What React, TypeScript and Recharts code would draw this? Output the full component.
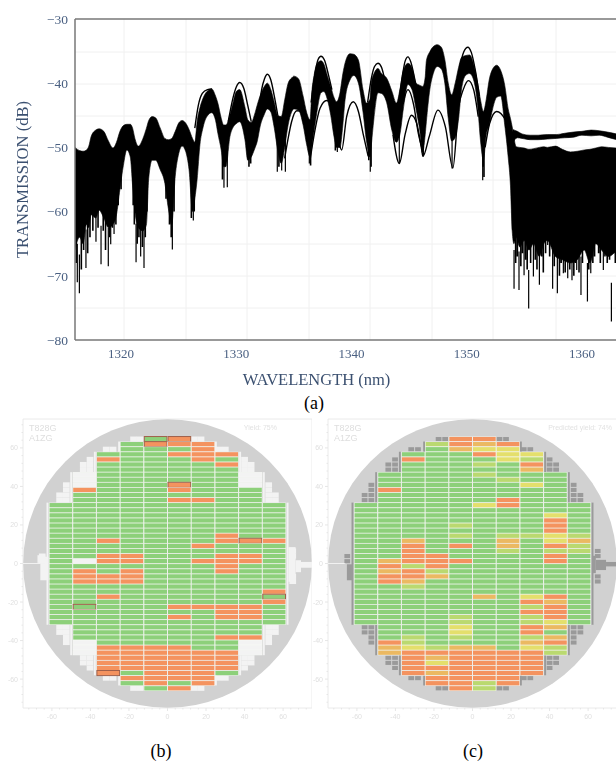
import React from 'react';
import { ComposedChart, ScatterChart, Area, Line, Scatter, XAxis, YAxis, CartesianGrid, ReferenceLine } from 'recharts';

// ---- (a) spectrum: [wavelength nm, upper dB, lower dB]
const bandRows: number[][] = [
  [1316.0,-50.0,-66],[1316.4,-50.5,-64],[1316.7,-50.6,-65],[1317.0,-50.4,-62],[1317.2,-49.8,-62.5],[1317.4,-48.3,-60.5],
  [1317.8,-47.3,-61],[1318.1,-47.1,-59.8],[1318.5,-47.5,-61],[1318.9,-49,-62.5],[1319.3,-50.1,-62],[1319.6,-49.2,-60.5],
  [1319.9,-47.5,-56.5],[1320.2,-46.6,-52.8],[1320.5,-46.4,-50.4],[1320.8,-46.4,-51.5],[1321.0,-47,-56],[1321.2,-48.6,-60],
  [1321.5,-49.8,-62.5],[1321.9,-48.6,-63],[1322.2,-47,-62],[1322.4,-45.8,-54.8],[1322.7,-45.2,-52],[1323.0,-45.4,-52],
  [1323.4,-47,-53.5],[1323.8,-48.6,-55.6],[1324.1,-48.8,-59.5],[1324.4,-48.6,-62],[1324.7,-47.5,-54.5],[1325.0,-46.2,-51],
  [1325.3,-45.8,-49.8],[1325.6,-46.2,-50.6],[1325.9,-47.2,-53.5],[1326.2,-48.6,-60],[1326.4,-49.2,-58],[1326.6,-46,-55],
  [1326.85,-43.8,-49.5],[1327.1,-42.4,-47],[1327.45,-41.3,-45.2],[1327.87,-40.9,-44.6],[1328.2,-42,-45.8],[1328.4,-43.1,-47.8],
  [1328.7,-45.5,-50.5],[1328.9,-46.5,-53],[1329.1,-46.5,-53],[1329.45,-44.9,-48.3],[1329.75,-42.8,-46.8],[1330.0,-41.3,-46.3],
  [1330.3,-41,-46],[1330.75,-43.7,-48.8],[1331.0,-45.7,-52],[1331.3,-46.1,-51.5],[1331.6,-44.8,-50.2],[1331.8,-43.5,-49.2],
  [1332.1,-41.8,-46.5],[1332.4,-40.6,-45],[1332.7,-40,-44],[1333.0,-41,-44.5],[1333.3,-43,-47],[1333.6,-45,-50.5],
  [1333.9,-45.2,-52.5],[1334.2,-42.6,-50],[1334.5,-40,-46.5],[1334.8,-39.2,-44.5],[1335.0,-38.9,-44],[1335.4,-39.3,-44.2],
  [1335.8,-42,-46.5],[1336.1,-44.5,-49.5],[1336.4,-45.7,-51.5],[1336.55,-41.5,-50],[1336.75,-38.8,-47.5],[1337.0,-37,-44.5],
  [1337.35,-36.5,-41.5],[1337.6,-37,-41.3],[1337.9,-38.8,-42.5],[1338.2,-40.5,-45],[1338.5,-42.3,-48.5],[1338.7,-42.9,-50],
  [1339.0,-41.5,-50],[1339.25,-38.5,-46.5],[1339.45,-36.8,-42.5],[1339.87,-35.4,-39.5],[1340.2,-35.5,-38.8],[1340.6,-36.4,-40],
  [1341.0,-41,-44.5],[1341.3,-43.1,-49],[1341.6,-42.5,-51.5],[1341.7,-40.2,-50],[1341.95,-38.5,-45.5],[1342.3,-37.7,-41.5],
  [1342.6,-38.5,-41.6],[1343.05,-39.2,-43],[1343.5,-41.2,-47.3],[1343.9,-43.1,-49.2],[1344.2,-41,-48],[1344.5,-38,-44],
  [1344.9,-36.9,-40.2],[1345.25,-37.6,-41],[1345.6,-40,-44],[1345.9,-40.3,-47],[1346.2,-40.5,-50.5],[1346.4,-39,-48],
  [1346.5,-36.5,-46],[1346.8,-35.1,-41],[1347.1,-34.3,-38.5],[1347.45,-34,-37.4],[1347.8,-34.4,-37.8],[1348.1,-36.3,-40],
  [1348.4,-40,-45.5],[1348.7,-41.8,-49],[1349.0,-40,-48.5],[1349.3,-37.5,-45.5],[1349.55,-36,-41],[1349.9,-35.7,-38.8],
  [1350.25,-35.6,-38.5],[1350.6,-37,-39.5],[1350.95,-40,-43.5],[1351.2,-42.6,-49],[1351.45,-44.4,-52],[1351.7,-42.5,-48],
  [1351.95,-39.5,-46.5],[1352.25,-37.8,-44],[1352.6,-37.2,-42.2],[1352.95,-38,-42],[1353.3,-40.3,-46.5],[1353.6,-44,-51.5],
  [1353.8,-45.5,-56],[1353.95,-46.8,-63],[1354.1,-48.5,-65],[1354.3,-49.9,-64],[1354.6,-50,-65.5],[1355,-50.1,-64.5],
  [1355.4,-50.3,-66],[1355.8,-50.2,-65],[1356.3,-50,-67],[1356.7,-49.9,-65],[1357.0,-50,-64.5],[1357.7,-49.8,-67],
  [1358.3,-50.3,-67.5],[1359,-50.7,-68],[1359.6,-50.6,-67.5],[1360.2,-50.4,-66],[1360.7,-50.3,-68],[1361.2,-50.1,-65],
  [1361.7,-49.9,-66],[1362.3,-50,-67],[1363,-50.1,-66],
];
const rightBandRows: number[][] = [
  [1354.0,-47.2,-49.3],[1354.4,-47.5,-48.5],[1354.8,-47.9,-48.6],[1355.5,-48.1,-48.8],[1356.2,-48.1,-48.8],[1357,-48,-48.7],[1357.8,-48,-48.6],
  [1358.5,-47.8,-48.5],[1359.3,-47.6,-48.4],[1360,-47.5,-48.1],[1360.8,-47.3,-48.2],[1361.5,-47.4,-48.1],[1362.2,-47.6,-48.4],[1363,-47.9,-48.8],
];
const spikeNm = [1316.2,1316.38,1316.95,1317.82,1318.26,1318.89,1319.1,1319.39,1321.3,1321.7,1321.99,1324.45,1326.27,1328.93,1329.22,1333.56,1333.94,1334.26,1336.34,1338.77,1341.63,1344.15,1346.24,1348.73,1351.39,1354.11,1354.54,1354.98,1355.38,1355.79,1356.31,1357.03,1357.46,1357.87,1358.39,1358.77,1359.14,1359.55,1359.92,1360.27,1360.48,1360.77,1361.28,1361.86,1362.56];
const spikeTip = [-71,-72.7,-68.8,-64.7,-68.2,-68.5,-65.1,-63.5,-67.9,-67,-68.8,-65.9,-61.4,-56.3,-56.2,-53.8,-53.6,-53.8,-52.5,-50.7,-53.8,-52.5,-51.4,-53.3,-55.1,-72,-72.2,-69.9,-75.1,-70.1,-71.4,-65.2,-72,-72.7,-69.6,-70.4,-70.7,-69.1,-73,-66,-74,-69.6,-64.9,-69.1,-77.1];
// shorter teeth along the lower edge of the bundle
const toothNm = [1316.1,1316.55,1316.75,1317.1,1317.3,1317.55,1318.0,1318.45,1318.65,1319.0,1319.25,1319.55,1319.75,1320.0,1321.05,1321.15,1321.4,1321.55,1321.85,1322.1,1322.25,1323.9,1324.2,1324.35,1324.6,1326.1,1326.35,1328.8,1331.1,1331.25,1333.7,1336.45,1338.6,1341.5,1341.7,1346.15,1351.42,1351.5,
  1354.25,1354.4,1354.7,1354.85,1355.1,1355.25,1355.55,1355.95,1356.1,1356.5,1356.65,1356.85,1357.2,1357.6,1358.05,1358.2,1358.55,1358.95,1359.3,1359.45,1359.75,1360.05,1360.6,1360.95,1361.1,1361.45,1361.6,1362.0,1362.2,1362.4,1362.75,1362.9];
const toothTip = [-68,-69,-66,-66.5,-64,-63,-62.5,-63,-66,-64,-62.5,-62,-59,-56.5,-59,-62,-65,-64,-65.5,-64,-60,-58,-62,-64,-60,-61,-60,-55,-53,-52.5,-53,-52.8,-50.5,-52,-53,-50.8,-53,-54.6,
  -68,-67,-68.5,-66.5,-67.5,-69,-68,-67.5,-69,-67,-69.5,-66.5,-67,-68.5,-70,-68,-69.5,-69,-70,-68,-69.5,-68,-69,-68,-67,-66.5,-68,-67,-68,-67.5,-66.5,-68];
// isolated traces that separate from the main bundle
const tracesA: number[][][] = [
  [[1326.4,-47],[1326.7,-43.5],[1327.05,-41.6],[1327.5,-41],[1327.9,-40.9]],
  [[1329.3,-46],[1329.7,-42.4],[1330,-40.6],[1330.3,-39.9],[1330.65,-40.8],[1331,-43.5],[1331.3,-46]],
  [[1331.9,-45],[1332.2,-41],[1332.45,-39.3],[1332.7,-38.6],[1333,-39.5],[1333.3,-42],[1333.6,-45]],
  [[1336.5,-43],[1336.9,-37.8],[1337.1,-36.3],[1337.35,-35.8],[1337.65,-36.4],[1338,-38.7],[1338.3,-41]],
  [[1341.4,-43],[1341.75,-39],[1342,-37.4],[1342.3,-36.9],[1342.6,-37.5],[1342.95,-40],[1343.3,-43]],
  [[1344.1,-43],[1344.45,-38.5],[1344.65,-36.6],[1344.9,-35.9],[1345.15,-36.7],[1345.45,-39],[1345.9,-43]],
  [[1349,-42],[1349.4,-37.5],[1349.75,-35.1],[1350.1,-34.4],[1350.4,-35.2],[1350.75,-38],[1351.1,-42]],
  [[1334.2,-51.7],[1334.5,-48.6],[1334.8,-46],[1335.25,-44.3],[1335.8,-44.5]],
  [[1336.4,-52],[1336.83,-47.3],[1337.27,-43.9],[1337.85,-42.7],[1338.28,-43.7],[1338.86,-48.8],[1339.15,-50.4],[1339.58,-45.2],[1340.15,-42.9],[1340.6,-44.4],[1341,-47.8],[1341.45,-51.4]],
  [[1343.6,-48],[1344.15,-52.5],[1344.65,-48],[1345.2,-45],[1345.65,-46.2],[1346.1,-50.4],[1346.2,-51.4],[1346.75,-48.3],[1347.5,-44.2],[1348.15,-46.8],[1348.8,-53.2],[1349.3,-43.7],[1349.7,-41],[1350.15,-39.6],[1350.6,-41],[1351,-45.2]],
  [[1344.5,-43],[1344.9,-41],[1345.4,-43.4],[1345.8,-47.8],[1346.1,-50]],
  [[1351.6,-50],[1352,-46.2],[1352.6,-44.4],[1353.35,-45.7],[1353.8,-47.8]],
];
const wavelengthTicks = [1320,1330,1340,1350,1360];
const transmissionTicks = [-80,-70,-60,-50,-40,-30];

// ---- wafer maps: one string per die row, one letter per column
// g pass, o fail, a/y/l intermediate predictions, w excluded, upper case = outlined die
const columnCenters = [-55.35,-43.05,-30.75,-18.45,-6.15,6.15,18.45,30.75,43.05,55.35];
const waferB = [
  '....GO....','...gOoo...','...gggo...','..gggooo..','..ogggog..','..gggggo..','..gggggg..','.wggggggw.','.wggggggw.','.wgggOggw.',
  '.ogggoggg.','.gggggggg.','.ggggoogg.','gggggggggg','gggggggggg','gggggggggg','gggggggggg','gggggggggg','gggggggggg','gggggggogg',
  'ggoggggoOo','ggggggoggg','gggggggggg','ggoogggoog','gwooggooog','gggggggogg','gogogggogg','gooogggggg','gooogggggg','gggggggggg',
  'gggggggggo','ggoggggggG','gggggggggo','gGgggoooog','gggggggoog','gggggogoog','gggggggggg','.gggggggg.','.gggggggg.','.ggggggoo.',
  '.wggggggw.','.wooooggw.','.woooooow.','..oooooo..','..oooooo..','..oooooo..','..Ogooog..','...oooo...','...gogo...','....go....',
];
const waferC = [
  '....oo....','...loao...','...gayy...','..gggoyy..','..ogggyl..','..ggglgo..','..ggggga..','.gggglggg.','.ggggglgg.','.ggggggyg.',
  '.oggggggg.','.gggggggg.','.gggggogg.','gggggyoggg','gggggggggg','ggggggggyg','ggggggggog','gggglgggog','ggggggggog','gggglgllyl',
  'ggagggagya','ggogogagol','ggoggglgll','ggooggggog','gaooogggog','gologggggg','gaolgggggg','gooagggggg','goaggggggg','gglggggggg',
  'gggggggggg','gggggagyog','gggggggoag','ggggggglog','gggggggoog','gggglgglog','gggglgglyg','.gggyggoa.','.gggyggog.','.glglggla.',
  '.olggggao.','.aylaagyl.','.aooooool.','..oaoooo..','..oyoooo..','..oooooo..','..oaoooo..','...oooo...','...oolo...','....ol....',
];
const partialCells: number[][] = [
  [-17.6,0],[-14.2,0],[14,0],[17.4,0],[-31.8,2],[-28.3,2],[26.6,2],[30,2],
  [-40.2,4],[40,4],[-43.7,5],[-40.2,5],[40,5],[43.4,5],[-43.7,6],[-40.2,6],[40,6],[43.4,6],
  [-52.5,9],[52.5,9],[-52.5,10],[52.5,10],[-56,11],[-52.5,11],[52.5,11],[56,11],[-56,12],[-52.5,12],[52.5,12],[56,12],
  [-65,23],[-65,24],[65,22],[65,23],[65,27],[65,28],
  [-56,37],[-52.5,37],[52.5,37],[56,37],[-56,38],[-52.5,38],[52.5,38],[56,38],[-52.5,39],[52.5,39],[-52.5,40],[52.5,40],
  [-43.7,43],[-40.2,43],[40,43],[43.4,43],[-43.7,44],[-40.2,44],[40,44],[43.4,44],[-40.2,45],[40,45],
  [-31.8,47],[-28.3,47],[26.6,47],[30,47],[-17.6,49],[-14.2,49],[14,49],[17.4,49],
];
// edge features in wafer mm: [x left, x right, y top, y bottom]
const edgeBars: number[][] = [
  [-62.8,-61.8,31.6,-31.8],[61.8,62.8,31.6,-31.8],
  [-50.5,-49.5,47.4,31.6],[49.5,50.5,47.4,31.6],[-50.5,-49.5,-31.8,-47.6],[49.5,50.5,-31.8,-47.6],
  [-38.2,-37.2,58,47.4],[37.2,38.2,58,47.4],[-38.2,-37.2,-47.6,-58],[37.2,38.2,-47.6,-58],
  [-25.6,-24.6,63.3,58],[24.6,25.6,63.3,58],[-25.6,-24.6,-58,-63.3],[24.6,25.6,-58,-63.3],
];
const notchB: number[][] = [[-75,-66,0.25,-0.25],[-66,-61.8,3.5,-8.7],[-67.5,-63.5,4.3,0.3],[62.8,66.5,8.5,-9.5],[66.5,69.3,1.7,-4.5],[69.3,75,0.8,-2.2]];
const notchC: number[][] = [[-65.2,-62.2,-0.4,-8.7],[62,64,4,-5],[64,69.3,1.9,-3.4],[69.3,75,0.8,-1.5]];
const notchLineC: number[][] = [[-75,-66,0.25,-0.25]];
const waferTicks = [-72,-68,-64,-60,-56,-52,-48,-44,-40,-36,-32,-28,-24,-20,-16,-12,-8,-4,0,4,8,12,16,20,24,28,32,36,40,44,48,52,56,60,64,68,72];

const SERIF = '"Liberation Serif", serif';
const SANS = '"Liberation Sans", Arial, sans-serif';
const AXIS_BLUE = '#4a6082';
const PLOT_PX = 289;
const PX_PER_MM = PLOT_PX / 150;
const ROW_PITCH_MM = 2.64;
const COL_PITCH_MM = 12.3;
const statusFill: Record<string, string> = { g: '#8dd07a', o: '#f4935f', a: '#ebb962', y: '#e4df6c', l: '#bad970', w: '#f3f3f3' };

const rowY = (r: number) => 65.9 - ROW_PITCH_MM * (r + 0.5);

const bandData = bandRows.map(([x, hi, lo]) => ({ x, band: [lo, hi] }));
const rightBandData = rightBandRows.map(([x, hi, lo]) => ({ x, band: [lo, hi] }));
const spikeData = spikeNm.flatMap((x, i) => [{ x, y: spikeTip[i] + 6 }, { x, y: spikeTip[i] }, { x, y: null }]);
const toothData = toothNm.flatMap((x, i) => [{ x, y: toothTip[i] + 6 }, { x, y: toothTip[i] }, { x, y: null }]);

const dieTable = (rows: string[]) =>
  rows.flatMap((row, r) =>
    row.split('').flatMap((c, i) => (c === '.' ? [] : [{ x: columnCenters[i], y: rowY(r), status: c.toLowerCase(), outlined: c !== c.toLowerCase() }])),
  );
const rectTable = (rows: number[][], fill: string) =>
  rows.map(([x1, x2, y1, y2]) => ({ x: (x1 + x2) / 2, y: (y1 + y2) / 2, wMm: x2 - x1, hMm: y1 - y2, fill }));

const DieShape = (p: any) => {
  const w = COL_PITCH_MM * PX_PER_MM;
  const h = ROW_PITCH_MM * PX_PER_MM;
  const d = p.payload;
  return (
    <g>
      <rect x={p.cx - w / 2} y={p.cy - h / 2} width={w} height={h} fill="#f7faf5" />
      <rect x={p.cx - w / 2 + 0.5} y={p.cy - h / 2 + 0.4} width={w - 1} height={h - 0.8} fill={statusFill[d.status]} />
      {d.outlined && <rect x={p.cx - w / 2 + 0.5} y={p.cy - h / 2} width={w - 1} height={h} fill="none" stroke="#a0604a" strokeWidth={1} />}
    </g>
  );
};
const DiscShape = (p: any) => <circle cx={p.cx} cy={p.cy} r={144.3} fill="#d1d1d1" />;
const RectShape = (p: any) => {
  const d = p.payload;
  const w = d.wMm * PX_PER_MM;
  const h = d.hMm * PX_PER_MM;
  return <rect x={p.cx - w / 2} y={p.cy - h / 2} width={w} height={h} fill={d.fill} />;
};
const partialShape = (fill: string, gap: number) => (p: any) => {
  const w = 3.5 * PX_PER_MM;
  const h = ROW_PITCH_MM * PX_PER_MM;
  return <rect x={p.cx - w / 2 + gap} y={p.cy - h / 2 + gap} width={w - 2 * gap} height={h - 2 * gap} fill={fill} />;
};
const TickX = (p: any) => {
  const v = p.payload.value;
  const major = v % 20 === 0;
  return (
    <g>
      <line x1={p.x} x2={p.x} y1={p.y - 8} y2={p.y - 8 + (major ? 3 : 1.5)} stroke="#e6e6e6" />
      {major && <text x={p.x} y={p.y + 3} textAnchor="middle" fontSize={7} fill="#e0e0e0" fontFamily={SANS}>{v}</text>}
    </g>
  );
};
const TickY = (p: any) => {
  const v = p.payload.value;
  const major = v % 20 === 0;
  return (
    <g>
      <line x1={p.x + 8} x2={p.x + 8 - (major ? 3 : 1.5)} y1={p.y} y2={p.y} stroke="#e6e6e6" />
      {major && <text x={p.x + 3} y={p.y + 2.5} textAnchor="end" fontSize={7} fill="#e0e0e0" fontFamily={SANS}>{v}</text>}
    </g>
  );
};

const Wafer = ({ left, rows, excludeFill, gap, features, bars, yieldText, right }: any) => (
  <div style={{ position: 'absolute', left, top: 410, width: 312, height: 320, filter: 'blur(0.5px)' }}>
    <ScatterChart width={312} height={320} margin={{ top: 9, right: 0, bottom: 0, left: 0 }}>
      <XAxis type="number" dataKey="x" domain={[-75, 75]} ticks={waferTicks} interval={0} height={22} stroke="#eaeaea" tickLine={false} tick={<TickX />} allowDataOverflow />
      <YAxis type="number" dataKey="y" domain={[-75, 75]} ticks={waferTicks} interval={0} width={23} stroke="#eaeaea" tickLine={false} tick={<TickY />} allowDataOverflow />
      <ReferenceLine y={75} stroke="#eaeaea" />
      <ReferenceLine x={75} stroke="#eaeaea" />
      <Scatter name="wafer" data={[{ x: 0, y: 0 }]} shape={<DiscShape />} isAnimationActive={false} />
      <Scatter name="edge" data={rectTable(bars, excludeFill)} shape={<RectShape />} isAnimationActive={false} />
      <Scatter name="notch" data={features} shape={<RectShape />} isAnimationActive={false} />
      <Scatter name="partial" data={partialCells.map(([x, r]) => ({ x, y: rowY(r) }))} shape={partialShape(excludeFill, gap)} isAnimationActive={false} />
      <Scatter name="dies" data={dieTable(rows)} shape={<DieShape />} isAnimationActive={false} />
    </ScatterChart>
    <div style={{ position: 'absolute', left: 29, top: 13, fontFamily: SANS, fontSize: 9, lineHeight: '10px', color: '#dedede' }}>T828G<br />A1ZG</div>
    <div style={{ position: 'absolute', right, top: 13, fontFamily: SANS, fontSize: 7, lineHeight: '10px', color: '#e2e2e2' }}>{yieldText}</div>
  </div>
);

const Caption = ({ x, y, children }: any) => (
  <div style={{ position: 'absolute', left: x - 30, top: y - 11, width: 60, textAlign: 'center', fontFamily: SERIF, fontSize: 18, lineHeight: '22px', color: '#000' }}>{children}</div>
);

export default function App() {
  return (
    <div style={{ position: 'absolute', left: 0, top: 0, width: 616, height: 762, overflow: 'hidden', background: '#fff' }}>
      <div style={{ position: 'absolute', left: 0, top: 0, filter: 'blur(0.3px)' }}>
        <ComposedChart width={616} height={395} margin={{ top: 19, right: 0, bottom: 0, left: 0 }}>
          <CartesianGrid stroke="#f0f0f0" verticalPoints={[124, 186, 247, 309, 370, 432, 493, 556]} horizontalPoints={[52, 84, 116, 148, 180, 212, 244, 276, 308]} />
          <XAxis
            type="number" dataKey="x" domain={[1316, 1362.96]} ticks={wavelengthTicks} height={55} allowDataOverflow
            stroke="#777" strokeWidth={1.5} tickLine={false} tick={{ fill: AXIS_BLUE, fontSize: 13, fontFamily: SERIF }} tickMargin={3}
            label={{ value: 'WAVELENGTH (nm)', position: 'insideBottom', offset: 10, dx: -29, fill: '#3b5070', fontSize: 16.5, fontFamily: SERIF }}
          />
          <YAxis
            type="number" domain={[-80, -30]} ticks={transmissionTicks} width={75} allowDataOverflow
            stroke="#777" strokeWidth={1.5} tickLine={false} tick={{ fill: AXIS_BLUE, fontSize: 13.5, fontFamily: SERIF }} tickMargin={1}
            tickFormatter={(v: number) => String(v).replace('-', '\u2212')}
            label={{ value: 'TRANSMISSION (dB)', angle: -90, position: 'insideLeft', offset: 22, fill: '#3b5070', fontSize: 16.6, fontFamily: SERIF, style: { textAnchor: 'middle' } }}
          />
          <ReferenceLine y={-30} stroke="#777" strokeWidth={1.5} />
          <Area data={bandData} dataKey="band" type="monotone" stroke="#000" strokeWidth={0.6} fill="#000" fillOpacity={1} dot={false} isAnimationActive={false} />
          <Area data={rightBandData} dataKey="band" type="monotone" stroke="#000" strokeWidth={0.6} fill="#000" fillOpacity={1} dot={false} isAnimationActive={false} />
          <Line data={spikeData} dataKey="y" stroke="#000" strokeWidth={1.2} dot={false} connectNulls={false} isAnimationActive={false} />
          <Line data={toothData} dataKey="y" stroke="#000" strokeWidth={1.6} dot={false} connectNulls={false} isAnimationActive={false} />
          {tracesA.map((t, i) => (
            <Line key={i} data={t.map(([x, y]) => ({ x, y }))} dataKey="y" type="monotone" stroke="#000" strokeWidth={1.4} dot={false} isAnimationActive={false} />
          ))}
        </ComposedChart>
      </div>
      <Caption x={314} y={403}>(a)</Caption>
      <Wafer left={0} rows={waferB} excludeFill="#f3f3f3" gap={0} bars={edgeBars} features={rectTable(notchB, '#f3f3f3')} yieldText="Yield: 75%" right={35} />
      <Wafer left={305} rows={waferC} excludeFill="#9a9a9a" gap={0.5} bars={edgeBars} features={[...rectTable(notchC, '#9a9a9a'), ...rectTable(notchLineC, '#f3f3f3')]} yieldText="Predicted yield: 74%" right={5} />
      <Caption x={161} y={751}>(b)</Caption>
      <Caption x={473} y={751}>(c)</Caption>
    </div>
  );
}
